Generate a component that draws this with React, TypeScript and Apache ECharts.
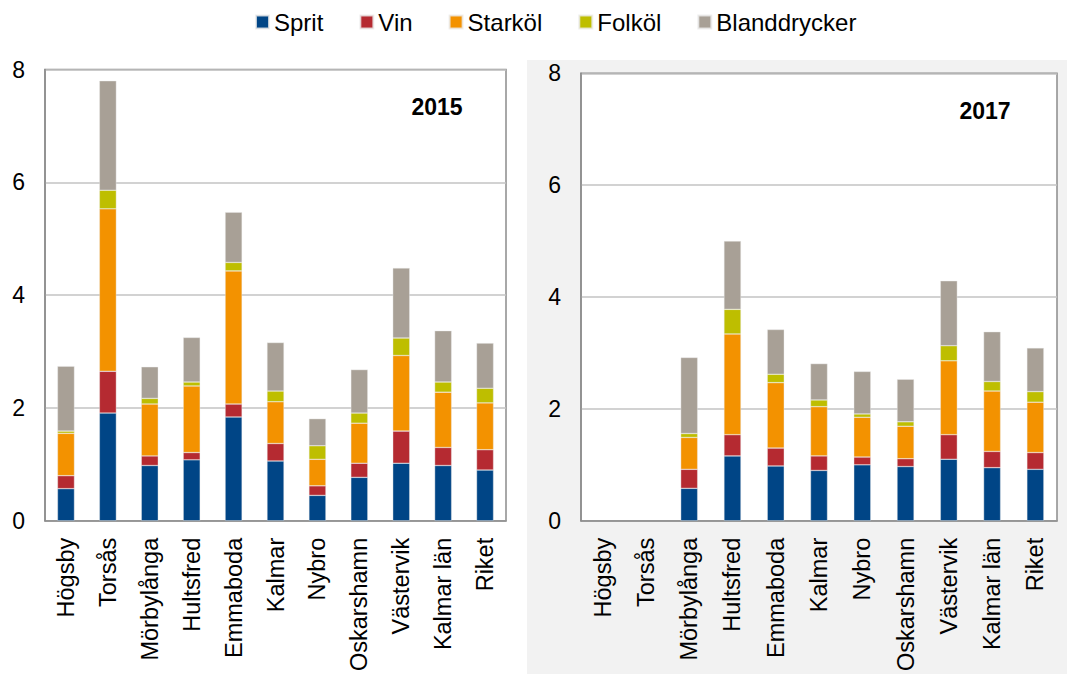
import React, { useEffect, useRef } from "react";
import * as echarts from "echarts";

const categories = ["Högsby", "Torsås", "Mörbylånga", "Hultsfred", "Emmaboda", "Kalmar", "Nybro", "Oskarshamn", "Västervik", "Kalmar län", "Riket"];
const seriesNames = ["Sprit", "Vin", "Starköl", "Folköl", "Blanddrycker"];
const colors = ["#004586", "#B52A31", "#F39200", "#BEBE00", "#A8A096"];

// 2015
const sprit2015 = [0.57, 1.91, 0.98, 1.08, 1.84, 1.06, 0.45, 0.77, 1.02, 0.98, 0.90];
const vin2015 = [0.23, 0.74, 0.17, 0.13, 0.23, 0.31, 0.17, 0.25, 0.57, 0.32, 0.36];
const stark2015 = [0.75, 2.88, 0.92, 1.18, 2.36, 0.74, 0.47, 0.71, 1.34, 0.98, 0.83];
const folk2015 = [0.04, 0.33, 0.10, 0.07, 0.15, 0.19, 0.24, 0.18, 0.31, 0.18, 0.26];
const bland2015 = [1.15, 1.94, 0.56, 0.79, 0.89, 0.86, 0.48, 0.77, 1.24, 0.91, 0.80];

// 2017
const sprit2017 = [null, null, 0.58, 1.16, 0.98, 0.90, 1.00, 0.97, 1.10, 0.95, 0.92];
const vin2017 = [null, null, 0.34, 0.38, 0.32, 0.26, 0.14, 0.14, 0.44, 0.29, 0.30];
const stark2017 = [null, null, 0.57, 1.80, 1.17, 0.88, 0.71, 0.58, 1.32, 1.08, 0.90];
const folk2017 = [null, null, 0.07, 0.44, 0.15, 0.12, 0.06, 0.08, 0.27, 0.17, 0.19];
const bland2017 = [null, null, 1.36, 1.22, 0.80, 0.65, 0.76, 0.76, 1.16, 0.89, 0.78];

const yTicks = [0, 2, 4, 6, 8];
const yearLabels = ["2015", "2017"];

const FONT = "'Liberation Sans', Arial, sans-serif";

export default function App() {
  const ref = useRef<HTMLDivElement>(null);
  useEffect(() => {
    if (!ref.current) return;
    const chart = echarts.init(ref.current, undefined, { renderer: "svg" });
    const data2015 = [sprit2015, vin2015, stark2015, folk2015, bland2015];
    const data2017 = [sprit2017, vin2017, stark2017, folk2017, bland2017];

    const grids = [
      { left: 45, top: 69.5, width: 461, height: 453, show: true, backgroundColor: "#ffffff", borderColor: "#8c8c8c", borderWidth: 1.5 },
      { left: 581, top: 73.3, width: 476, height: 450, show: true, backgroundColor: "#ffffff", borderColor: "#8c8c8c", borderWidth: 1.5 },
    ];

    const xAxes = [0, 1].map((i) => ({
      type: "category",
      gridIndex: i,
      data: categories,
      axisLine: { show: true, lineStyle: { color: "#8c8c8c", width: 1.5 } },
      axisTick: { show: false },
      axisLabel: { rotate: 90, fontSize: 23.5, color: "#000", fontFamily: FONT, margin: 17, interval: 0 },
    }));

    const yAxes = [0, 1].map((i) => ({
      type: "value",
      gridIndex: i,
      min: yTicks[0],
      max: yTicks[yTicks.length - 1],
      interval: 2,
      axisLine: { show: true, lineStyle: { color: "#8c8c8c", width: 1.5 } },
      axisTick: { show: false },
      splitLine: { show: true, lineStyle: { color: "#c3c3c3", width: 1.5 } },
      axisLabel: { fontSize: 23, color: "#000", fontFamily: FONT, margin: 20 },
    }));

    const series: any[] = [];
    [data2015, data2017].forEach((ds, gi) => {
      ds.forEach((d, si) => {
        series.push({
          name: seriesNames[si],
          type: "bar",
          stack: "s" + gi,
          xAxisIndex: gi,
          yAxisIndex: gi,
          barWidth: 17,
          data: d,
          itemStyle: { color: colors[si], borderColor: "rgba(235,235,235,0.8)", borderWidth: 0.5 },
        });
      });
    });

    chart.setOption({
      animation: false,
      backgroundColor: "#ffffff",
      color: colors,
      legend: {
        data: seriesNames,
        left: 250,
        top: 5,
        itemWidth: 13,
        itemHeight: 13,
        itemGap: 36,
        icon: "rect",
        textStyle: { fontSize: 24, color: "#000", fontFamily: FONT },
      },
      graphic: [
        { type: "rect", z: -10, silent: true, shape: { x: 527, y: 60, width: 540, height: 614 }, style: { fill: "#f2f2f2" } },
        { type: "text", z: 10, x: 437, y: 107, style: { text: yearLabels[0], font: "bold 23px " + FONT, fill: "#000", textAlign: "center", textVerticalAlign: "middle" } },
        { type: "text", z: 10, x: 985, y: 111, style: { text: yearLabels[1], font: "bold 23px " + FONT, fill: "#000", textAlign: "center", textVerticalAlign: "middle" } },
      ],
      grid: grids,
      xAxis: xAxes,
      yAxis: yAxes,
      series,
    });
    return () => chart.dispose();
  }, []);
  return <div ref={ref} style={{ position: "fixed", left: 0, top: 0, width: 1067, height: 674 }} />;
}
